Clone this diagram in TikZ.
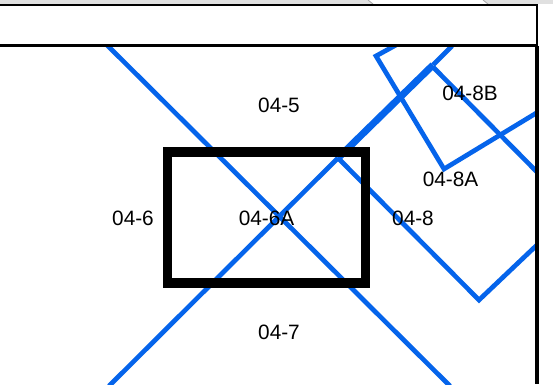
\documentclass[tikz,border=0pt]{standalone}
\usepackage{fontspec}
\setmainfont{Liberation Sans}
\definecolor{parcel}{RGB}{5,100,235}
\tikzset{
  px/.style={x=1pt,y=-1pt},
  lbl/.style={font=\fontsize{20.8}{24}\selectfont,inner sep=0pt,text=black},
  parcelline/.style={draw=parcel,line width=4.7pt,line join=miter},
  parcelthick/.style={draw=parcel,line width=7pt},
  frame/.style={draw=black,line width=2.6pt},
  framethick/.style={draw=black,line width=3.6pt},
  focus/.style={draw=black,line width=9.8pt,line join=miter}
}
\begin{document}
\begin{tikzpicture}[px]
\useasboundingbox (0,0) rectangle (553,384);
\fill[white] (0,0) rectangle (553,384);
% top strip
\fill[black!12] (0,0) rectangle (553,4);
\fill[white] (368,0) -- (483,0) -- (488,4) -- (373,4) -- cycle;
\draw[black!35,line width=0.8pt] (368,0) -- (373,4);
\draw[black!35,line width=0.8pt] (483,0) -- (488,4);
% blue parcel lines
\begin{scope}
\clip (0,46) rectangle (536,384);
\draw[parcelline] (106,44) -- (450,386);
\draw[parcelline] (109,386) -- (338,158);
\draw[parcelthick] (338,158) -- (433,65);
\draw[parcelline] (433,65) -- (452,46);
\draw[parcelline] (338,158) -- (479,300) -- (538,244);
\draw[parcelline] (433,67) -- (538,173);
\draw[parcelline] (396,45) -- (376,56) -- (444,169) -- (538,112);
\end{scope}
% focus rectangle
\draw[focus] (167.5,152) rectangle (365.5,283);
% frame
\draw[frame] (0,5) -- (538,5);
\draw[frame] (0,45.7) -- (537,45.7);
\draw[frame] (537,5) -- (537,46);
\draw[framethick] (536.7,46) -- (536.7,384);
% labels
\node[lbl] (n5) at (279,105) {04-5};
\node[lbl] (n6) at (133,218) {04-6};
\node[lbl] (n6a) at (266.5,218) {04-6A};
\node[lbl] (n8) at (413,218) {04-8};
\node[lbl] (n8a) at (450.5,179) {04-8A};
\node[lbl] (n8b) at (470,93) {04-8B};
\node[lbl] (n7) at (279,332) {04-7};
\end{tikzpicture}
\end{document}
